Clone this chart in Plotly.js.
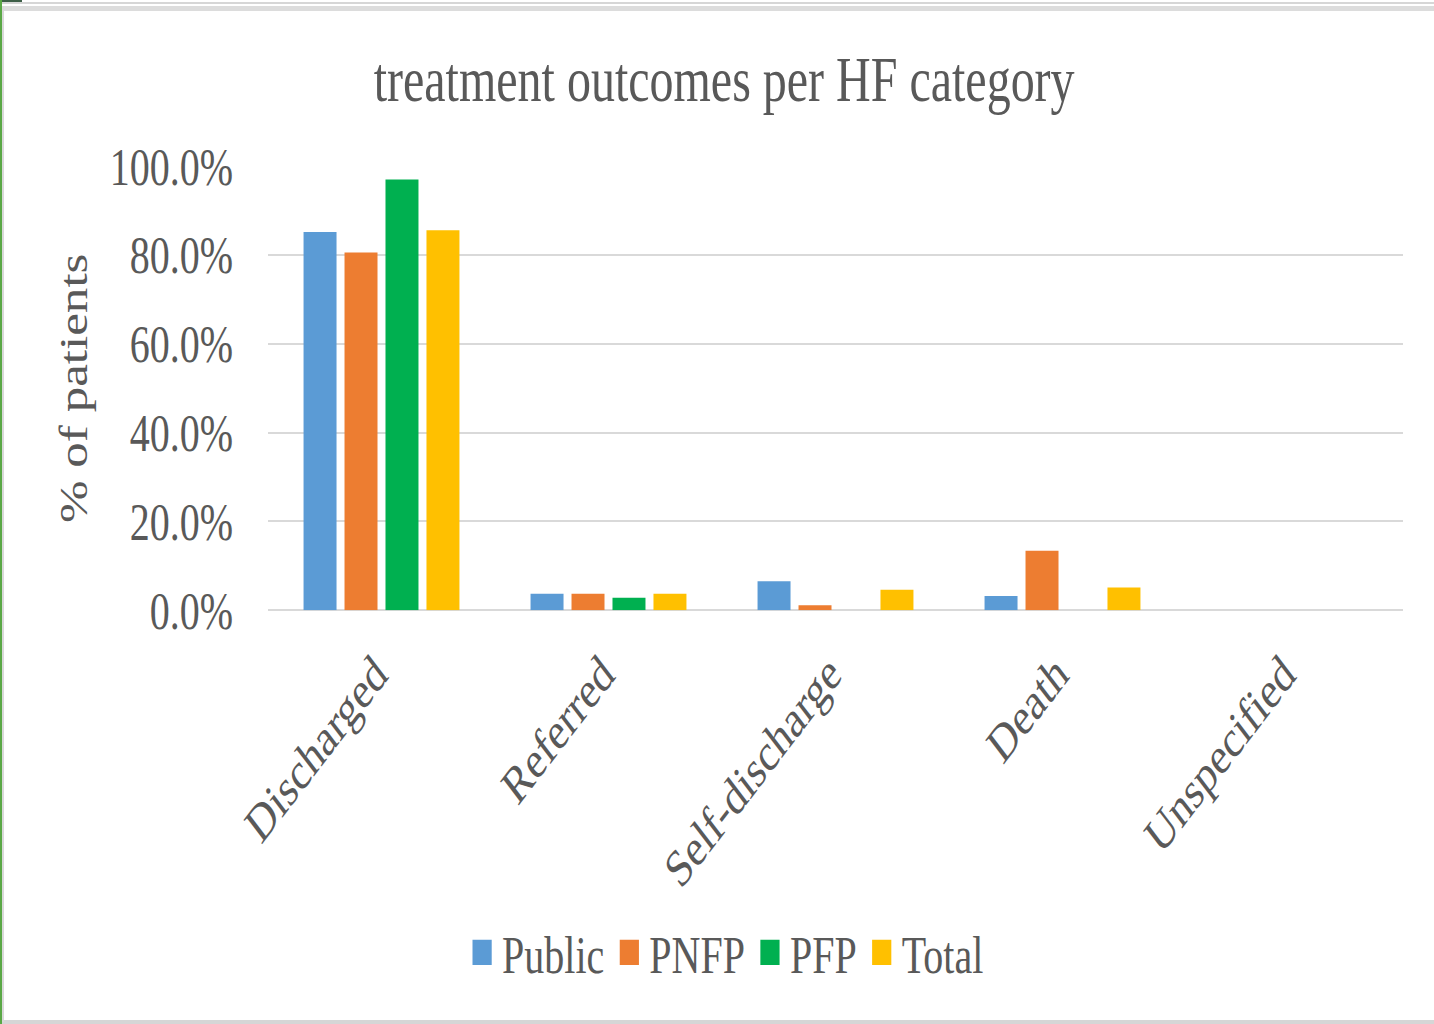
<!DOCTYPE html>
<html>
<head>
<meta charset="utf-8">
<script src="https://cdn.plot.ly/plotly-3.0.1.min.js"></script>
<style>
  html, body { margin: 0; padding: 0; background: #ffffff; }
  body { width: 1434px; height: 1024px; position: relative; overflow: hidden; }
  #wrap { position: absolute; left: 0; top: 0; width: 1434px; height: 782px;
          transform: scaleY(1.30946); transform-origin: 0 0; }
  #chart { width: 1434px; height: 782px; }
  .deco { position: absolute; }
</style>
</head>
<body>
<div class="deco" style="left:0;top:0;width:22px;height:2px;background:#3e5f48;"></div>
<div class="deco" style="left:0;top:2px;width:1434px;height:2px;background:#d6d6d6;"></div>
<div class="deco" style="left:0;top:6px;width:1434px;height:5px;background:#dcdcdc;"></div>
<div class="deco" style="left:0;top:1020px;width:1434px;height:4px;background:#d6d6d6;"></div>
<div class="deco" style="left:0;top:0;width:2px;height:1024px;background:#5aa846;"></div>
<div class="deco" style="left:2px;top:6px;width:2px;height:1016px;background:#d9d9d9;"></div>
<div id="wrap"><div id="chart"></div></div>
<script>
const categories = ["Discharged", "Referred", "Self-discharge", "Death", "Unspecified"];
const seriesNames = ["Public", "PNFP", "PFP", "Total"];
const publicVals = [0.852, 0.037, 0.065, 0.032, 0];
const pnfpVals   = [0.806, 0.037, 0.011, 0.134, 0];
const pfpVals    = [0.970, 0.028, 0, 0, 0];
const totalVals  = [0.856, 0.037, 0.046, 0.051, 0];
const seriesColors = ["#5B9BD5", "#ED7D31", "#00B050", "#FFC000"];
const yTickVals = [0, 0.2, 0.4, 0.6, 0.8, 1.0];

const FONT = '"Liberation Serif", "Times New Roman", serif';
const TXT = '#595959';
const allVals = [publicVals, pnfpVals, pfpVals, totalVals];

const traces = seriesNames.map((n, i) => ({
  type: 'bar',
  name: n,
  x: categories,
  y: allVals[i],
  marker: { color: seriesColors[i] },
  hoverinfo: 'x+y+name'
}));

const layout = {
  width: 1434,
  height: 782,
  paper_bgcolor: 'rgba(0,0,0,0)',
  plot_bgcolor: 'rgba(0,0,0,0)',
  margin: { l: 268, r: 31, t: 127, b: 316.4, pad: 0 },
  barmode: 'group',
  bargap: 0.278,
  bargroupgap: 0.195,
  font: { family: FONT, color: TXT },
  title: {
    text: 'treatment outcomes per HF category',
    font: { family: FONT, size: 48, color: TXT },
    x: 0.505, xanchor: 'center',
    y: 0.923, yanchor: 'middle', yref: 'container'
  },
  xaxis: {
    type: 'category',
    tickangle: -45,
    tickfont: { family: FONT, size: 40, color: TXT },
    ticks: 'outside',
    ticklen: 8,
    tickcolor: 'rgba(0,0,0,0)',
    ticklabelshift: -6,
    showline: false,
    showgrid: false,
    zeroline: false
  },
  yaxis: {
    range: [0, 1],
    tickvals: yTickVals,
    tickformat: '.1%',
    tickfont: { family: FONT, size: 40, color: TXT },
    ticks: 'outside',
    ticklen: 26,
    tickcolor: 'rgba(0,0,0,0)',
    showgrid: true,
    gridcolor: '#d9d9d9',
    gridwidth: 1.6,
    zeroline: true,
    zerolinecolor: '#d9d9d9',
    zerolinewidth: 1.6,
    showline: false,
    title: {
      text: '% of patients',
      font: { family: FONT, size: 39, color: TXT },
      standoff: 10
    }
  },
  showlegend: true,
  legend: {
    orientation: 'h',
    xref: 'container', yref: 'container',
    x: 0.506, xanchor: 'center',
    y: 0.07, yanchor: 'middle',
    font: { family: FONT, size: 40, color: TXT },
    bgcolor: 'rgba(0,0,0,0)',
    itemwidth: 30
  }
};

Plotly.newPlot('chart', traces, layout, { displayModeBar: false, staticPlot: true }).then(gd => {
  // enlarge the legend colour keys to match the reference's larger squares
  gd.querySelectorAll('.legend .legendpoints path').forEach(p => {
    const t = p.getAttribute('transform') || '';
    p.setAttribute('transform', t + ' scale(1.6)');
  });
});
</script>
</body>
</html>
